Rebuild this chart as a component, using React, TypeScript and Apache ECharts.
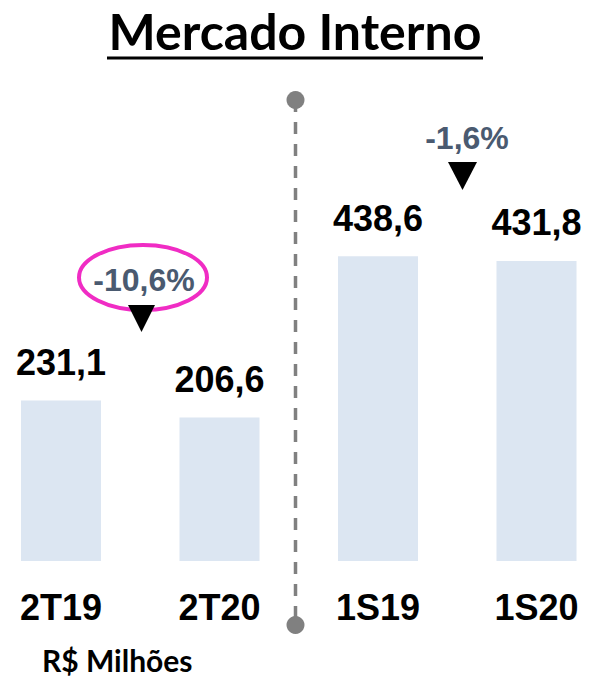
import React, { useEffect, useRef } from "react";
import * as echarts from "echarts";

const categories = ["2T19", "2T20", "1S19", "1S20"];
const values = [231.1, 206.6, 438.6, 431.8];
const changeLabels = ["-10,6%", "-1,6%"];
const titleText = "Mercado Interno";
const unitText = "R$ Milhões";

const fmt = (v: number) => v.toFixed(1).replace(".", ",");

export default function App() {
  const ref = useRef<HTMLDivElement>(null);
  useEffect(() => {
    document.body.style.margin = "0";
    const chart = echarts.init(ref.current!, null, { renderer: "svg" });
    const numFont = "'Liberation Sans', Arial, sans-serif";
    const calFont = "Lato, 'Open Sans', sans-serif";
    chart.setOption({
      animation: false,
      grid: { left: 61, right: 56.5, top: 144, bottom: 118 },
      xAxis: {
        type: "category",
        data: categories,
        boundaryGap: false,
        axisLine: { show: false },
        axisTick: { show: false },
        axisLabel: {
          color: "#000",
          fontFamily: numFont,
          fontWeight: "bold",
          fontSize: 36,
          margin: 28,
        },
      },
      yAxis: {
        type: "value",
        min: 0,
        max: 600,
        show: false,
        splitLine: { show: false },
      },
      series: [
        {
          type: "bar",
          data: values,
          barWidth: 80,
          itemStyle: { color: "#DCE6F2" },
          label: {
            show: true,
            position: "top",
            distance: 20,
            color: "#000",
            fontFamily: numFont,
            fontWeight: "bold",
            fontSize: 36,
            formatter: (p: any) => fmt(p.value),
          },
        },
      ],
      graphic: [
        {
          type: "text",
          x: 295,
          y: 31,
          style: {
            text: titleText,
            font: `bold 50px ${calFont}`,
            fill: "#000",
            align: "center",
            verticalAlign: "middle",
          },
        },
        {
          type: "line",
          shape: { x1: 107, y1: 58, x2: 483, y2: 58 },
          style: { stroke: "#000", lineWidth: 3 },
        },
        {
          type: "line",
          shape: { x1: 295.5, y1: 100, x2: 295.5, y2: 625 },
          style: { stroke: "#808080", lineWidth: 3.5, lineDash: [12, 10] },
        },
        {
          type: "circle",
          shape: { cx: 295.5, cy: 100, r: 9 },
          style: { fill: "#808080" },
        },
        {
          type: "circle",
          shape: { cx: 295.5, cy: 625, r: 9 },
          style: { fill: "#808080" },
        },
        {
          type: "ellipse",
          shape: { cx: 143, cy: 277.5, rx: 64, ry: 32.5 },
          style: { fill: "none", stroke: "#F02CC4", lineWidth: 4 },
        },
        {
          type: "text",
          x: 144,
          y: 280,
          style: {
            text: changeLabels[0],
            font: `bold 32px ${numFont}`,
            fill: "#4A5A70",
            align: "center",
            verticalAlign: "middle",
          },
        },
        {
          type: "polygon",
          shape: { points: [[128, 305], [155, 305], [141.5, 332]] },
          style: { fill: "#000" },
        },
        {
          type: "text",
          x: 467,
          y: 137.5,
          style: {
            text: changeLabels[1],
            font: `bold 32px ${numFont}`,
            fill: "#4A5A70",
            align: "center",
            verticalAlign: "middle",
          },
        },
        {
          type: "polygon",
          shape: { points: [[448, 162], [477, 162], [462.5, 190]] },
          style: { fill: "#000" },
        },
        {
          type: "text",
          x: 42,
          y: 660,
          style: {
            text: unitText,
            font: `bold 30px ${calFont}`,
            fill: "#000",
            align: "left",
            verticalAlign: "middle",
          },
        },
      ],
    });
    return () => chart.dispose();
  }, []);
  return <div ref={ref} style={{ width: 593, height: 679 }} />;
}
